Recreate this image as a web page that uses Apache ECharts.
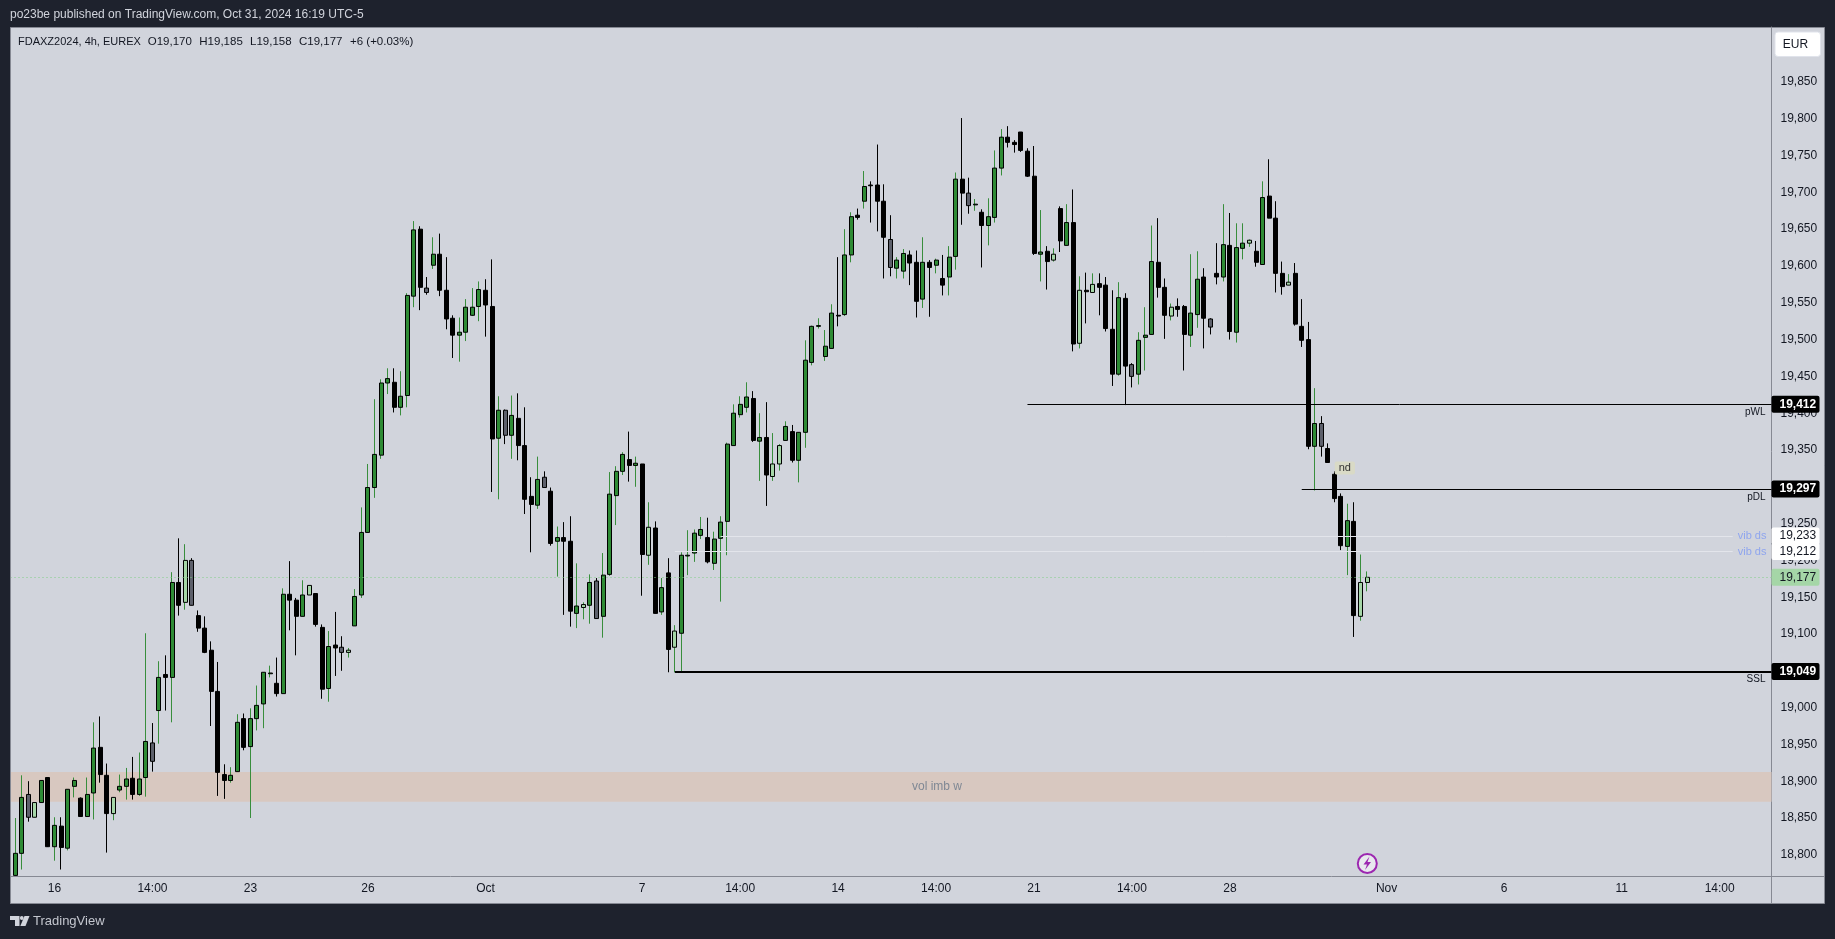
<!DOCTYPE html>
<html><head><meta charset="utf-8">
<style>html,body{margin:0;padding:0;background:#1e222d;overflow:hidden}#c{width:1835px;height:939px}</style>
<script src="https://cdn.jsdelivr.net/npm/echarts@6/dist/echarts.min.js"></script>
</head><body><div id="c"></div>
<script>
const opens = [18779,18772,18802,18882,18851,18871,18905,18811,18839,18809,
18893,18877,18852,18884,18946,18908,18856,18888,18893,18904,
18882,18905,18952,18996,19045,19041,19170,19143,19200,19125,
19108,19078,19022,18909,18901,18913,18985,18947,18985,19005,
19046,19033,19019,19154,19146,19124,19153,19155,19109,19026,
19085,19082,19075,19111,19153,19238,19299,19343,19441,19442,
19408,19424,19559,19650,19570,19601,19616,19567,19529,19506,
19510,19533,19545,19567,19545,19366,19404,19370,19393,19356,
19287,19275,19313,19294,19226,19231,19226,19128,19136,19139,
19172,19124,19181,19288,19321,19337,19329,19331,19207,19244,
19130,19183,19082,19101,19206,19210,19234,19231,19196,19230,
19253,19356,19398,19408,19420,19362,19367,19314,19331,19363,
19375,19336,19374,19469,19518,19477,19488,19533,19534,19615,
19669,19688,19710,19710,19688,19636,19597,19593,19615,19605,
19555,19605,19601,19583,19585,19613,19718,19699,19683,19673,
19655,19666,19733,19775,19768,19782,19756,19722,19616,19620,
19608,19678,19628,19659,19495,19567,19564,19576,19574,19514,
19453,19556,19466,19453,19503,19507,19605,19571,19532,19545,
19545,19506,19534,19585,19528,19590,19585,19628,19510,19624,
19631,19620,19602,19695,19665,19590,19574,19590,19518,19500,
19355,19386,19352,19317,19287,19219,19253,19124,19170];
const highs = [18779,18850,18908,18900,18871,18901,18905,18851,18851,18889,
18905,18878,18905,18980,18988,18924,18878,18909,18918,18933,
18939,19101,18979,19063,19071,19184,19230,19222,19203,19132,
19124,19090,19062,18923,18919,18991,18992,18999,19030,19048,
19057,19068,19162,19199,19149,19173,19166,19155,19113,19104,
19130,19097,19081,19161,19272,19331,19419,19446,19461,19461,
19457,19563,19661,19654,19585,19639,19644,19612,19533,19530,
19555,19570,19579,19582,19609,19423,19405,19424,19427,19408,
19313,19341,19321,19299,19246,19252,19260,19196,19143,19181,
19176,19210,19320,19328,19347,19375,19341,19331,19279,19253,
19176,19203,19112,19211,19241,19242,19259,19258,19239,19260,
19360,19412,19423,19442,19430,19400,19415,19373,19358,19389,
19384,19374,19499,19519,19529,19513,19548,19612,19650,19673,
19678,19729,19715,19765,19711,19669,19612,19623,19621,19621,
19639,19608,19610,19615,19627,19727,19801,19720,19691,19677,
19692,19757,19786,19790,19771,19782,19760,19763,19676,19627,
19624,19681,19684,19704,19586,19591,19590,19590,19585,19567,
19578,19563,19468,19510,19544,19655,19665,19583,19549,19556,
19547,19616,19620,19597,19529,19631,19684,19672,19658,19658,
19636,19634,19715,19745,19688,19606,19589,19604,19555,19524,
19434,19396,19359,19321,19291,19277,19279,19208,19185];
const lows = [18772,18772,18780,18845,18851,18871,18811,18792,18780,18806,
18878,18852,18852,18848,18898,18803,18847,18885,18875,18875,
18880,18879,18913,18951,18996,18980,19125,19133,19139,19103,
19074,18975,18880,18876,18898,18913,18942,18850,18969,18972,
19041,19015,19019,19105,19071,19124,19153,19110,19012,19008,
19043,19050,19068,19111,19149,19238,19285,19338,19426,19401,
19397,19408,19544,19540,19561,19596,19559,19514,19475,19470,
19498,19532,19525,19504,19293,19283,19358,19338,19336,19263,
19211,19270,19299,19220,19178,19126,19110,19108,19120,19114,
19121,19095,19179,19248,19316,19307,19300,19152,19194,19128,
19126,19048,19048,19048,19180,19198,19229,19196,19187,19144,
19207,19356,19394,19401,19361,19308,19274,19308,19322,19363,
19333,19306,19353,19465,19515,19471,19488,19518,19532,19605,
19663,19678,19659,19647,19583,19586,19583,19583,19574,19530,
19543,19531,19590,19560,19560,19595,19656,19671,19675,19598,
19628,19659,19723,19761,19754,19755,19721,19615,19579,19568,
19606,19619,19628,19484,19488,19522,19564,19533,19511,19437,
19451,19411,19435,19439,19458,19507,19557,19501,19526,19531,
19458,19490,19516,19488,19507,19575,19579,19500,19496,19609,
19626,19599,19602,19665,19564,19561,19574,19519,19490,19351,
19295,19341,19333,19279,19214,19180,19096,19118,19158];
const closes = [18772,18802,18878,18851,18871,18901,18811,18840,18810,18889,
18901,18852,18882,18945,18909,18856,18878,18893,18903,18882,
18903,18954,18927,19041,19041,19170,19139,19200,19139,19108,
19075,19022,18912,18901,18908,18980,18946,18985,19003,19048,
19047,19019,19154,19146,19124,19153,19166,19113,19025,19083,
19081,19075,19078,19151,19238,19299,19344,19441,19447,19408,
19423,19560,19649,19571,19564,19616,19567,19528,19506,19510,
19544,19544,19568,19547,19365,19404,19370,19397,19356,19283,
19276,19310,19299,19223,19231,19226,19131,19138,19140,19170,
19121,19180,19290,19321,19344,19329,19332,19208,19245,19128,
19163,19079,19104,19207,19207,19237,19242,19198,19229,19252,
19358,19400,19412,19422,19363,19367,19316,19331,19356,19382,
19336,19374,19472,19518,19519,19491,19536,19532,19615,19667,
19666,19708,19709,19688,19639,19598,19608,19617,19604,19552,
19605,19598,19608,19574,19612,19718,19699,19682,19684,19655,
19667,19733,19775,19768,19765,19757,19722,19617,19619,19606,
19616,19634,19659,19494,19567,19565,19575,19571,19515,19453,
19557,19464,19450,19499,19506,19606,19571,19533,19544,19541,
19507,19536,19582,19529,19517,19585,19629,19511,19625,19631,
19635,19605,19693,19665,19590,19572,19578,19521,19499,19355,
19386,19355,19333,19284,19220,19254,19125,19170,19177];
const lightBars = [4,16,27,46,52,88,98,102,117,118,160,164,166,178,190,196,207,208];
const grayBars = [3,22,28,51,64,76,82,90,135,147,172,184,201];
const xTickBars = [7,22,37,55,73,97,112,127,142,157,172,187,211,229,247,262];
const xTickLabels = ['16','14:00','23','26','Oct','7','14:00','14','14:00','21','14:00','28','Nov','6','11','14:00'];
const yTicks = [18800,18850,18900,18950,19000,19050,19100,19150,19200,19250,19300,19350,19400,19450,19500,19550,19600,19650,19700,19750,19800,19850];
const levelPrices = [19412,19297,19049];
const levelNames = ['pWL','pDL','SSL'];
const levelStartBars = [156,198,102];
const levelWidths = [1,1,2];
const vibPrices = [19233,19212];
const vibStartBars = [109,102];
const vibEndBar = 264;
const lastPrice = 19177;
const zoneLow = 18872, zoneHigh = 18912.5;
const legendParts = ['FDAXZ2024, 4h, EUREX','O19,170','H19,185','L19,158','C19,177','+6 (+0.03%)'];
const legendX = [18,147.7,199.3,250,299,350];

const FONT = '"Liberation Sans", Arial, sans-serif';
const C = {bg:'#1e222d',panel:'#d1d4dc',line:'#868993',text:'#131722',up:'#2e8b35',wick:'#388e3c',light:'#a5d6a7',gray:'#5d606b',vib:'#8fa5ee'};
const xMin = 0.26, xMax = 269.94, yMin = 18771.2, yMax = 19924.7;
const fmt = v => String(v).replace(/(\d)(\d{3})$/, '$1,$2');

const wickData = opens.map((o,i)=>[i,o,closes[i],lows[i],highs[i]]);
const bodyData = opens.map((o,i)=>{
  const c = closes[i], st = {};
  if (lightBars.includes(i)) st.color = C.light;
  if (grayBars.includes(i)) st.color0 = C.gray;
  return {value:[i,o,c,Math.min(o,c),Math.max(o,c)], itemStyle:st};
});
const boxLine = (price,bg,color,weight) => [
  {coord:[xMin,price], lineStyle:{color:'transparent',width:0},
   label:{show:true,position:'end',distance:0,formatter:fmt(price),backgroundColor:bg,color:color,fontWeight:weight,fontFamily:FONT,fontSize:12,
     width:40,height:17,lineHeight:17,borderRadius:2,padding:[0,0,0,8]}},
  {coord:[xMax,price]}
];
const levelLines = levelPrices.map((p,i)=>[
  {coord:[levelStartBars[i],p], lineStyle:{color:'#000',width:levelWidths[i],type:'solid'},
   label:{show:true,position:'insideEndBottom',distance:[6,3],formatter:levelNames[i],color:'#131722',fontSize:10,fontFamily:FONT}},
  {coord:[xMax,p]}
]);
const vibLines = vibPrices.map((p,i)=>[
  {coord:[vibStartBars[i],p], lineStyle:{color:'#e3e5eb',width:1,type:'solid'},
   label:{show:true,position:'end',distance:5,formatter:'vib ds',color:C.vib,fontSize:11,fontFamily:FONT}},
  {coord:[vibEndBar,p]}
]);
const lastLine = [
  {coord:[xMin,lastPrice], lineStyle:{color:'#7fce85',width:1,type:[1,3]}, label:{show:false}},
  {coord:[xMax,lastPrice]}
];
const bolt = [[1369.5,856.5],[1363.5,864.5],[1367,864.5],[1365,870],[1371,862],[1367.5,862]];

const chart = echarts.init(document.getElementById('c'),null,{renderer:'canvas',width:1835,height:939});
chart.setOption({
  animation:false, backgroundColor:C.bg,
  textStyle:{fontFamily:FONT},
  grid:{left:10.5,top:27,width:1761,height:849,containLabel:false},
  xAxis:{type:'value',min:xMin,max:xMax,splitLine:{show:false},
    axisLine:{show:true,onZero:false,lineStyle:{color:C.line,width:1}},axisTick:{show:false},
    axisLabel:{customValues:xTickBars,formatter:v=>xTickLabels[xTickBars.indexOf(v)]||'',color:C.text,fontSize:12,margin:7,fontFamily:FONT}},
  yAxis:{type:'value',position:'right',min:yMin,max:yMax,splitLine:{show:false},
    axisLine:{show:true,onZero:false,lineStyle:{color:C.line,width:1}},axisTick:{show:false},
    axisLabel:{customValues:yTicks,formatter:fmt,color:C.text,fontSize:12,margin:9,fontFamily:FONT}},
  series:[
    {name:'wicks',type:'candlestick',barWidth:1,silent:true,data:wickData,
     itemStyle:{color:C.wick,color0:'#000',borderColor:C.wick,borderColor0:'#000',borderWidth:1},
     markArea:{silent:true,itemStyle:{color:'#d8c8c0'},
       label:{show:true,position:'inside',offset:[46,0],formatter:'vol imb w',color:'#7f8894',fontSize:12,fontFamily:FONT},
       data:[[{coord:[xMin,zoneHigh]},{coord:[xMax,zoneLow]}]]}},
    {name:'FDAXZ2024',type:'candlestick',barWidth:4.5,silent:true,data:bodyData,
     itemStyle:{color:C.up,color0:'#000',borderColor:'#000',borderColor0:'#000',borderWidth:1},
     markLine:{silent:true,symbol:'none',animation:false,
       data:[lastLine,...vibLines,...levelLines,
         ...levelPrices.map(p=>boxLine(p,'#000','#fff','bold')),
         ...vibPrices.map(p=>boxLine(p,'#fff','#131722','normal')),
         boxLine(lastPrice,C.light,'#131722','normal')]},
     markPoint:{silent:true,symbol:'circle',symbolSize:0,
       data:[{coord:[204.6,19325.5],label:{show:true,position:'inside',formatter:'nd',color:'#333',fontSize:11,fontFamily:FONT,backgroundColor:'#d9dac6',padding:[1,4,1,4],borderRadius:2}}]}}
  ],
  graphic:[
    {type:'rect',z:-10,silent:true,shape:{x:10.5,y:27.5,width:1814,height:876},style:{fill:C.panel,stroke:C.line,lineWidth:1}},
    {type:'rect',z:50,silent:true,shape:{x:0,y:27,width:10,height:880},style:{fill:C.bg}},
    {type:'line',z:50,silent:true,shape:{x1:10.5,y1:27.5,x2:10.5,y2:903.5},style:{stroke:C.line,lineWidth:1}},
    {type:'line',z:1,silent:true,shape:{x1:1771.5,y1:876,x2:1771.5,y2:903},style:{stroke:C.line,lineWidth:1}},
    {type:'line',z:1,silent:true,shape:{x1:1771.5,y1:876.5,x2:1824,y2:876.5},style:{stroke:C.line,lineWidth:1}},
    {type:'text',z:10,silent:true,style:{x:10,y:15,text:'po23be published on TradingView.com, Oct 31, 2024 16:19 UTC-5',fill:C.panel,font:'12px '+FONT,verticalAlign:'middle'}},
    ...legendParts.map((t,i)=>({type:'text',z:10,silent:true,style:{x:legendX[i],y:41.5,text:t,fill:C.text,font:(i?'11.5px ':'11px ')+FONT,verticalAlign:'middle'}})),
    {type:'rect',z:10,silent:true,shape:{x:1775,y:32,width:45.5,height:24.5,r:3},style:{fill:'#fff',stroke:'#e0e3eb',lineWidth:1}},
    {type:'text',z:11,silent:true,style:{x:1795.5,y:44.5,text:'EUR',fill:C.text,font:'12px '+FONT,align:'center',verticalAlign:'middle'}},
    {type:'polygon',z:10,silent:true,shape:{points:[[10,916],[19.5,916],[19.5,926],[15,926],[15,920],[10,920]]},style:{fill:'#d1d4dc'}},
    {type:'circle',z:10,silent:true,shape:{cx:21.8,cy:918,r:1.9},style:{fill:'#d1d4dc'}},
    {type:'polygon',z:10,silent:true,shape:{points:[[24.5,916],[29.5,916],[25.5,926],[20.3,926]]},style:{fill:'#d1d4dc'}},
    {type:'text',z:10,silent:true,style:{x:33,y:921,text:'TradingView',fill:'#c3c6ce',font:'13px '+FONT,verticalAlign:'middle'}},
    {type:'circle',z:10,silent:true,shape:{cx:1367.3,cy:863.5,r:9.5},style:{fill:'#e8e9ee',stroke:'#9c27b0',lineWidth:2}},
    {type:'polygon',z:11,silent:true,shape:{points:bolt},style:{fill:'#9c27b0'}}
  ]
});
</script></body></html>
